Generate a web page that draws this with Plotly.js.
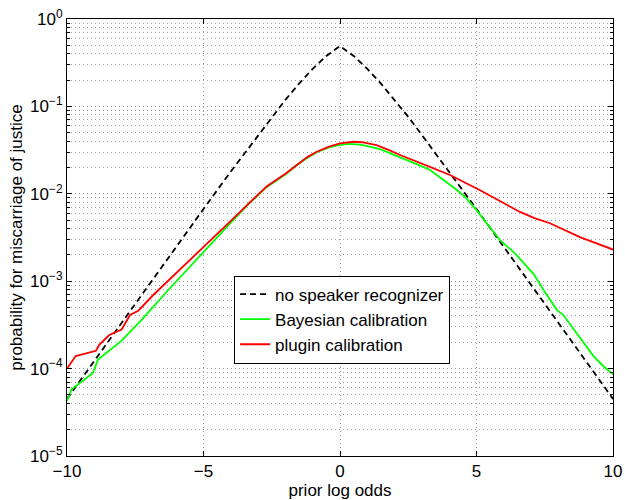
<!DOCTYPE html>
<html>
<head>
<meta charset="utf-8">
<script src="https://cdn.plot.ly/plotly-3.0.1.min.js"></script>
<style>html,body{margin:0;padding:0;background:#fff;}#plot{width:625px;height:500px;}</style>
</head>
<body>
<div id="plot"></div>
<script>
// no speaker recognizer (dashed)
var dashX = [-10,-9,-8,-7,-6,-5,-4,-3,-2.5,-2,-1.5,-1,-0.5,0,0.5,1,1.5,2,2.5,3,4,5,6,7,8,9,10];
var dashY = [4.5e-5,1.23e-4,3.35e-4,9.1e-4,2.47e-3,6.7e-3,0.018,0.047,0.076,0.119,0.182,0.269,0.378,0.49,0.378,0.269,0.182,0.119,0.076,0.047,0.018,6.7e-3,2.47e-3,9.1e-4,3.35e-4,1.23e-4,4.5e-5];

// Bayesian calibration (green)
var bayesX = [-10,-9.84,-9.05,-8.87,-8,-7.26,-6.23,-5,-4,-3.3,-2.69,-2,-1.6,-1.2,-0.85,-0.4,0,0.37,0.8,1.47,1.8,2.2,2.87,3.3,3.7,4.21,4.6,5,5.4,5.86,6.4,6.8,7.1,7.45,7.94,8.18,8.5,8.85,9.28,9.6,10];
var bayesY = [4.27e-5,5.75e-5,8.9e-5,1.26e-4,2.09e-4,3.63e-4,8.3e-4,2.19e-3,4.68e-3,7.9e-3,0.0119,0.0166,0.0211,0.0257,0.0299,0.0339,0.0363,0.0372,0.0363,0.0324,0.0295,0.0263,0.0214,0.0187,0.0151,0.0115,9.1e-3,6.5e-3,4.5e-3,2.95e-3,2.1e-3,1.55e-3,1.2e-3,8.0e-4,4.7e-4,4.1e-4,3.0e-4,2.1e-4,1.4e-4,1.1e-4,8.6e-5];

// plugin calibration (red)
var pluginX = [-10,-9.84,-9.68,-8.94,-8.82,-8.45,-8,-7.69,-7.39,-6.84,-6.17,-4.89,-4,-3.3,-2.69,-2,-1.6,-1.2,-0.85,-0.4,0,0.49,0.8,1.34,1.8,2.2,3.2,4.03,5.13,6,6.59,7.1,7.69,8.79,10];
var pluginY = [1.0e-4,1.2e-4,1.39e-4,1.6e-4,1.87e-4,2.42e-4,2.8e-4,4.1e-4,4.6e-4,6.95e-4,1.1e-3,2.6e-3,4.9e-3,8.0e-3,0.0121,0.017,0.0214,0.0263,0.0303,0.0347,0.0378,0.0394,0.0389,0.0361,0.0316,0.0278,0.0209,0.0164,0.011,7.9e-3,6.2e-3,5.3e-3,4.6e-3,3.2e-3,2.3e-3];

var xTickVals = [-10,-5,0,5,10];
var xTickText = ['\u221210','\u22125','0','5','10'];
var yTickVals = [1e-5,1e-4,1e-3,1e-2,1e-1,1];
var yTickText = ['10<sup>\u22125</sup>','10<sup>\u22124</sup>','10<sup>\u22123</sup>','10<sup>\u22122</sup>','10<sup>\u22121</sup>','10<sup>0</sup>'];
var yMinorVals = [];
[1e-5,1e-4,1e-3,1e-2,1e-1].forEach(function(d){ for (var k=2;k<=9;k++) yMinorVals.push(d*k); });

var traces = [
  {x: dashX, y: dashY, mode:'lines', name:'no speaker recognizer', line:{color:'#000000', width:1.8, dash:'6px,4px'}},
  {x: bayesX, y: bayesY, mode:'lines', name:'Bayesian calibration', line:{color:'#00ff00', width:1.8}},
  {x: pluginX, y: pluginY, mode:'lines', name:'plugin calibration', line:{color:'#ff0000', width:1.8}}
];

var fontFam = 'Liberation Sans, Arial, sans-serif';
var gridC = '#a0a0a0';
var gridDash = '1px,3px';
var layout = {
  width:625, height:500,
  margin:{l:67, r:12, t:19, b:44, pad:0},
  paper_bgcolor:'#ffffff', plot_bgcolor:'#ffffff',
  font:{family:fontFam, size:17, color:'#000000'},
  showlegend:true,
  legend:{x:0.306, y:0.413, xanchor:'left', yanchor:'top', bgcolor:'#ffffff', bordercolor:'#000000', borderwidth:1, font:{family:fontFam, size:17, color:'#000'}, tracegroupgap:0},
  xaxis:{
    range:[-10,10], tickvals:xTickVals, ticktext:xTickText,
    showline:true, linecolor:'#000', linewidth:1, mirror:'allticks',
    ticks:'inside', ticklen:5, tickcolor:'#000',
    showgrid:true, gridcolor:gridC, griddash:gridDash, gridwidth:1,
    zeroline:false,
    title:{text:'prior log odds', font:{family:fontFam, size:17}, standoff:2},
    automargin:false
  },
  yaxis:{
    type:'log', range:[-5,0], tickvals:yTickVals, ticktext:yTickText,
    showline:true, linecolor:'#000', linewidth:1, mirror:'allticks',
    ticks:'inside', ticklen:5, tickcolor:'#000',
    showgrid:true, gridcolor:gridC, griddash:gridDash, gridwidth:1,
    zeroline:false,
    minor:{tickvals:yMinorVals, ticks:'inside', ticklen:3, tickcolor:'#000', showgrid:true, gridcolor:gridC, griddash:gridDash, gridwidth:1},
    title:{text:'probability for miscarriage of justice', font:{family:fontFam, size:17}, standoff:3},
    automargin:false
  }
};

Plotly.newPlot('plot', traces, layout, {displayModeBar:false, staticPlot:true});
</script>
</body>
</html>
